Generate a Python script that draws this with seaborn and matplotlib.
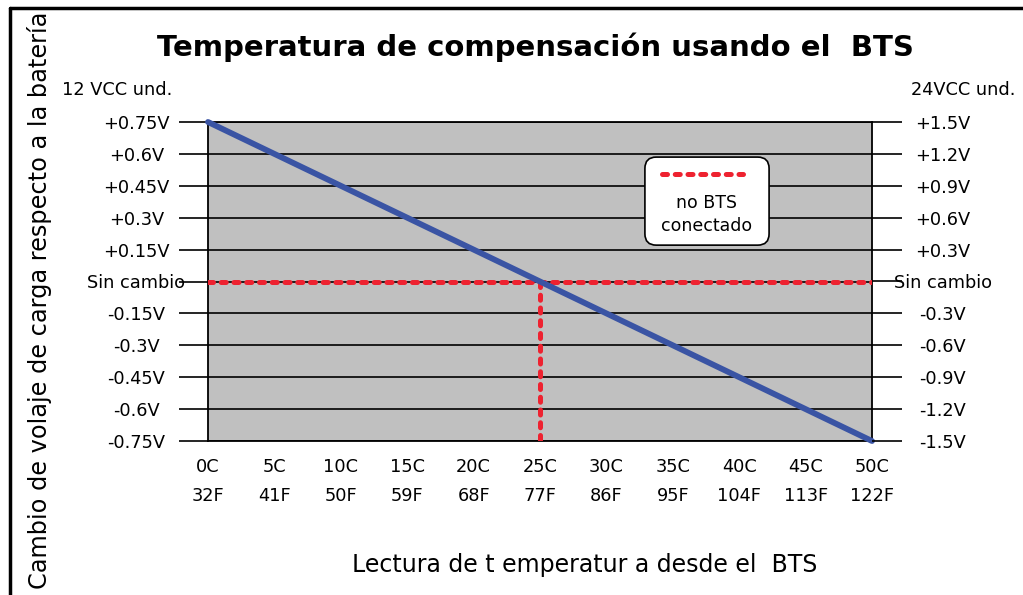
import matplotlib
matplotlib.use("Agg")
import matplotlib.pyplot as plt
import seaborn as sns
import pandas as pd
from matplotlib.patches import FancyBboxPatch
from matplotlib.lines import Line2D

# ---- data ----
temps_c = [0, 5, 10, 15, 20, 25, 30, 35, 40, 45, 50]
temps_f = [32, 41, 50, 59, 68, 77, 86, 95, 104, 113, 122]
volt12_ticks = [0.75, 0.6, 0.45, 0.3, 0.15, 0.0, -0.15, -0.3, -0.45, -0.6, -0.75]
volt12_labels = ["+0.75V", "+0.6V", "+0.45V", "+0.3V", "+0.15V", "Sin cambio",
                 "-0.15V", "-0.3V", "-0.45V", "-0.6V", "-0.75V"]
volt24_ticks = [1.5, 1.2, 0.9, 0.6, 0.3, 0.0, -0.3, -0.6, -0.9, -1.2, -1.5]
volt24_labels = ["+1.5V", "+1.2V", "+0.9V", "+0.6V", "+0.3V", "Sin cambio",
                 "-0.3V", "-0.6V", "-0.9V", "-1.2V", "-1.5V"]
comp_temp = [0, 50]
comp_volt = [0.75, -0.75]
nobts_h_temp = [0, 50]
nobts_h_volt = [0.0, 0.0]
nobts_v_temp = [25, 25]
nobts_v_volt = [0.0, -0.75]

sns.set_style("white")
plt.rcParams["font.family"] = ["DejaVu Sans"]
plt.rcParams["text.color"] = "black"
plt.rcParams["xtick.color"] = "black"
plt.rcParams["ytick.color"] = "black"
plt.rcParams["axes.labelcolor"] = "black"

FS = 12.8
fig = plt.figure(figsize=(10.23, 5.95), dpi=100)
ax = fig.add_axes([208 / 1023, 154 / 595, 664 / 1023, 319 / 595])
ax.set_facecolor("#C0C0C0")

blue = "#3A54A4"
red = "#EE2230"
RLW = 3.6
RDASH = (0, (1.0, 1.55))

sns.lineplot(x=comp_temp, y=comp_volt, ax=ax, color=blue, lw=4.2,
             solid_capstyle="round", clip_on=False, zorder=5,
             estimator=None, sort=False)
sns.lineplot(x=nobts_h_temp, y=nobts_h_volt, ax=ax, color=red, lw=RLW,
             zorder=4, estimator=None, sort=False)
sns.lineplot(x=nobts_v_temp, y=nobts_v_volt, ax=ax, color=red, lw=RLW,
             zorder=4, estimator=None, sort=False)
for ln in ax.lines[1:]:
    ln.set_linestyle(RDASH)
    ln.set_dash_capstyle("round")

ax.set_xlim(0, 50)
ax.set_ylim(-0.75, 0.75)
ax.set_axisbelow(True)
ax.yaxis.grid(True, color="black", lw=1.2)
ax.xaxis.grid(False)
for s in ax.spines.values():
    s.set_color("black")
    s.set_linewidth(1.3)
    s.set_visible(True)

ax.set_xticks(temps_c)
ax.set_xticklabels([f"{c}C\n{f}F" for c, f in zip(temps_c, temps_f)],
                   fontsize=FS, linespacing=1.75)
ax.tick_params(axis="x", direction="out", length=8, width=1.2, color="black", pad=4.5)

ax.set_yticks(volt12_ticks)
ax.set_yticklabels(volt12_labels, fontsize=FS)
ax.tick_params(axis="y", direction="out", length=21, width=1.2, color="black", pad=30.5)
for lbl in ax.get_yticklabels():
    lbl.set_horizontalalignment("center")

ax2 = ax.twinx()
ax2.set_ylim(-1.5, 1.5)
ax2.set_yticks(volt24_ticks)
ax2.set_yticklabels(volt24_labels, fontsize=FS)
ax2.tick_params(axis="y", direction="out", length=21.5, width=1.2, color="black", pad=29.5)
for lbl in ax2.get_yticklabels():
    lbl.set_horizontalalignment("center")
ax2.grid(False)
for s in ax2.spines.values():
    s.set_visible(False)

# legend box
box = FancyBboxPatch((0.658, 0.614), 0.187, 0.276,
                     boxstyle="round,pad=0,rounding_size=0.017",
                     transform=ax.transAxes, facecolor="white",
                     edgecolor="black", lw=1.2, zorder=6,
                     mutation_aspect=664 / 319)
ax.add_patch(box)
leg_line = Line2D([0.683, 0.805], [0.837, 0.837], transform=ax.transAxes,
                  color=red, lw=RLW, linestyle=RDASH,
                  dash_capstyle="round", zorder=7)
ax.add_line(leg_line)
ax.text(0.7515, 0.71, "no BTS\nconectado", transform=ax.transAxes,
        ha="center", va="center", fontsize=12.5, linespacing=1.4, zorder=7)

# texts
fig.text(535 / 1023, 1 - 47 / 595, "Temperatura de compensación usando el  BTS",
         ha="center", va="center", fontsize=21, fontweight="bold")
fig.text(62 / 1023, 1 - 90 / 595, "12 VCC und.", ha="left", va="center", fontsize=FS)
fig.text(1015 / 1023, 1 - 90 / 595, "24VCC und.", ha="right", va="center", fontsize=FS)
fig.text(40 / 1023, 1 - 300 / 595, "Cambio de volaje de carga respecto a la batería",
         ha="center", va="center", rotation=90, fontsize=17.3)
fig.text(585 / 1023, 1 - 565 / 595, "Lectura de t emperatur a desde el  BTS",
         ha="center", va="center", fontsize=17)

# outer frame (top and left)
fig.add_artist(Line2D([10 / 1023, 1.0], [1 - 8 / 595, 1 - 8 / 595],
                      transform=fig.transFigure, color="black", lw=2.5))
fig.add_artist(Line2D([10 / 1023, 10 / 1023], [0, 1 - 8 / 595],
                      transform=fig.transFigure, color="black", lw=2.5))

fig.savefig("out.png", dpi=100)
